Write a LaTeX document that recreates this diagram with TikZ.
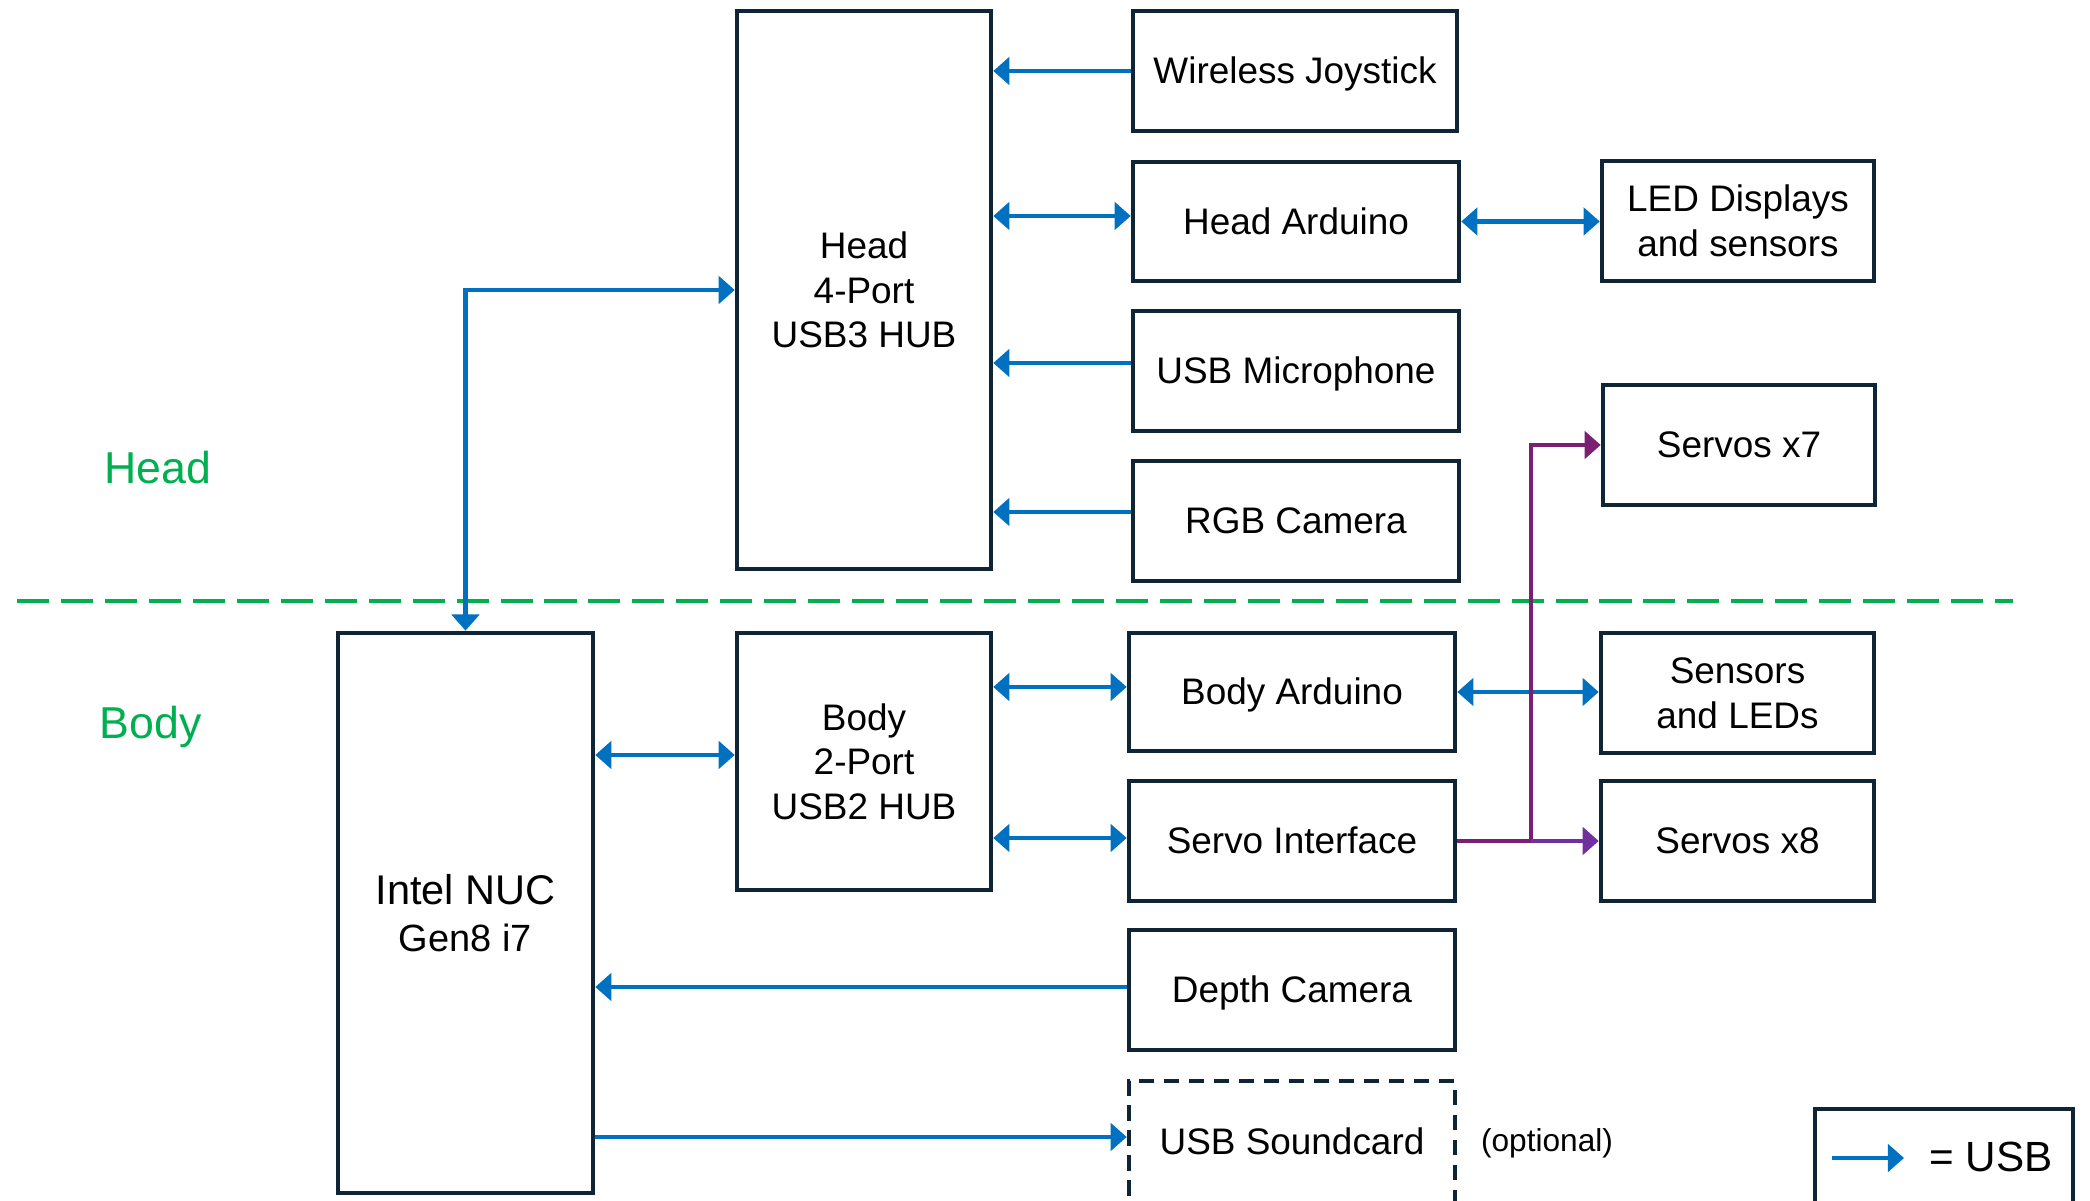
\documentclass[tikz,border=0pt]{standalone}
\usepackage{fontspec}
\setmainfont{Liberation Sans}
\usetikzlibrary{arrows.meta}
\definecolor{boxline}{HTML}{0F2435}
\definecolor{usbblue}{HTML}{0070C0}
\definecolor{zonegreen}{HTML}{00B050}
\definecolor{servowire}{HTML}{7A1F72}
\definecolor{servotip}{HTML}{7030A0}

\begin{document}
\begin{tikzpicture}[x=0.01cm,y=-0.01cm,
  box/.style={draw=boxline,line width=1.25pt,align=center,inner sep=0pt,font=\fontsize{10.5}{12.7}\selectfont},
  onebox/.style={box,text height=0.8em,text depth=0.085em},
  devbox/.style={onebox,minimum width=3.26cm,minimum height=1.2cm},
  endbox/.style={minimum width=2.72cm,minimum height=1.2cm},
  usb/.style={usbblue,line width=1.4pt,-{Triangle[width=7.8pt,length=4.6pt]}},
  usbboth/.style={usbblue,line width=1.4pt,{Triangle[width=7.8pt,length=4.6pt]}-{Triangle[width=7.8pt,length=4.6pt]}},
  zone/.style={zonegreen,anchor=base,inner sep=0pt,font=\fontsize{12.7}{15}\selectfont}]
\useasboundingbox (0,0) rectangle (2090,1201);

\draw [zonegreen,line width=1.2pt,dash pattern=on 9.1pt off 3.4pt] (17,601) -- (2013,601);
\node [zone] (headlbl) at (157.5,484) {Head};
\node [zone] (bodylbl) at (150.5,739) {Body};

\node [box,minimum width=2.54cm,minimum height=5.58cm] (hhub) at (864,290) {Head\\4-Port\\USB3 HUB};
\node [devbox,minimum width=3.24cm] (joy) at (1295,71) {Wireless Joystick};
\node [devbox,minimum height=1.19cm] (harduino) at (1296,221.5) {Head Arduino};
\node [devbox] (mic) at (1296,371) {USB Microphone};
\node [devbox] (rgb) at (1296,521) {RGB Camera};
\node [box,endbox] (led) at (1738,221) {LED Displays\\and sensors};
\node [onebox,endbox] (srv7) at (1739,445) {Servos x7};

\node [box,minimum width=2.55cm,minimum height=5.6cm] (nuc) at (465.5,913) {{\fontsize{11.8}{13}\selectfont Intel NUC}\\[0.5pt]{\fontsize{10.8}{13}\selectfont Gen8 i7}};
\node [box,minimum width=2.54cm,minimum height=2.57cm] (bhub) at (864,761.5) {Body\\2-Port\\USB2 HUB};
\node [devbox,minimum height=1.18cm] (barduino) at (1292,692) {Body Arduino};
\node [devbox] (srvif) at (1292,841) {Servo Interface};
\node [devbox] (depth) at (1292,990) {Depth Camera};
\node [devbox,dash pattern=on 4.3pt off 2.8pt,minimum height=1.22cm] (sound) at (1292,1142) {USB Soundcard};
\node [font=\fontsize{9}{11}\selectfont,inner sep=0pt] (optlbl) at (1547,1143) {(optional)};
\node [box,minimum width=2.73cm,minimum height=1.2cm] (sens) at (1737.5,693) {Sensors\\and LEDs};
\node [onebox,minimum width=2.73cm,minimum height=1.2cm] (srv8) at (1737.5,841) {Servos x8};

\draw [usb] (joy.west) -- (joy.west -| hhub.east);
\draw [usbboth] ([yshift=0.055cm]harduino.west -| hhub.east) -- ([yshift=0.055cm]harduino.west);
\draw [usb] ([yshift=0.08cm]mic.west) -- ([yshift=0.08cm]mic.west -| hhub.east);
\draw [usb] ([yshift=0.09cm]rgb.west) -- ([yshift=0.09cm]rgb.west -| hhub.east);
\draw [usbboth] (harduino.east) -- (harduino.east -| led.west);
\draw [usbboth] (nuc.north) |- (hhub.west);

\draw [usbboth] ([yshift=0.065cm]bhub.west -| nuc.east) -- ([yshift=0.065cm]bhub.west);
\draw [usbboth] ([yshift=0.05cm]barduino.west -| bhub.east) -- ([yshift=0.05cm]barduino.west);
\draw [usbboth] ([yshift=0.03cm]srvif.west -| bhub.east) -- ([yshift=0.03cm]srvif.west);
\draw [usbboth] (barduino.east) -- (barduino.east -| sens.west);
\draw [usb] ([yshift=0.03cm]depth.west) -- ([yshift=0.03cm]depth.west -| nuc.east);
\draw [usb] ([yshift=0.05cm]sound.west -| nuc.east) -- ([yshift=0.05cm]sound.west);

\coordinate (srvjoin) at (1531,841);
\draw [servowire,line width=1.4pt] (srvif.east) -- (srvjoin);
\draw [servowire,line width=1.4pt,-{Triangle[width=7.8pt,length=4.6pt]}] (srvjoin) |- (srv7.west);
\draw [servotip,line width=1.4pt,-{Triangle[width=7.8pt,length=4.6pt]}] (srvjoin) -- (srv8.west);

\node [box,minimum width=2.58cm,minimum height=1.24cm] (legend) at (1944,1171) {};
\coordinate (lgfrom) at (1832,1158);
\coordinate (lgto) at (1904,1158);
\draw [usb] (lgfrom) -- (lgto);
\node [font=\fontsize{12}{14}\selectfont,anchor=base,inner sep=0pt] (lgtext) at (1991,1172) {= USB};
\end{tikzpicture}
\end{document}
